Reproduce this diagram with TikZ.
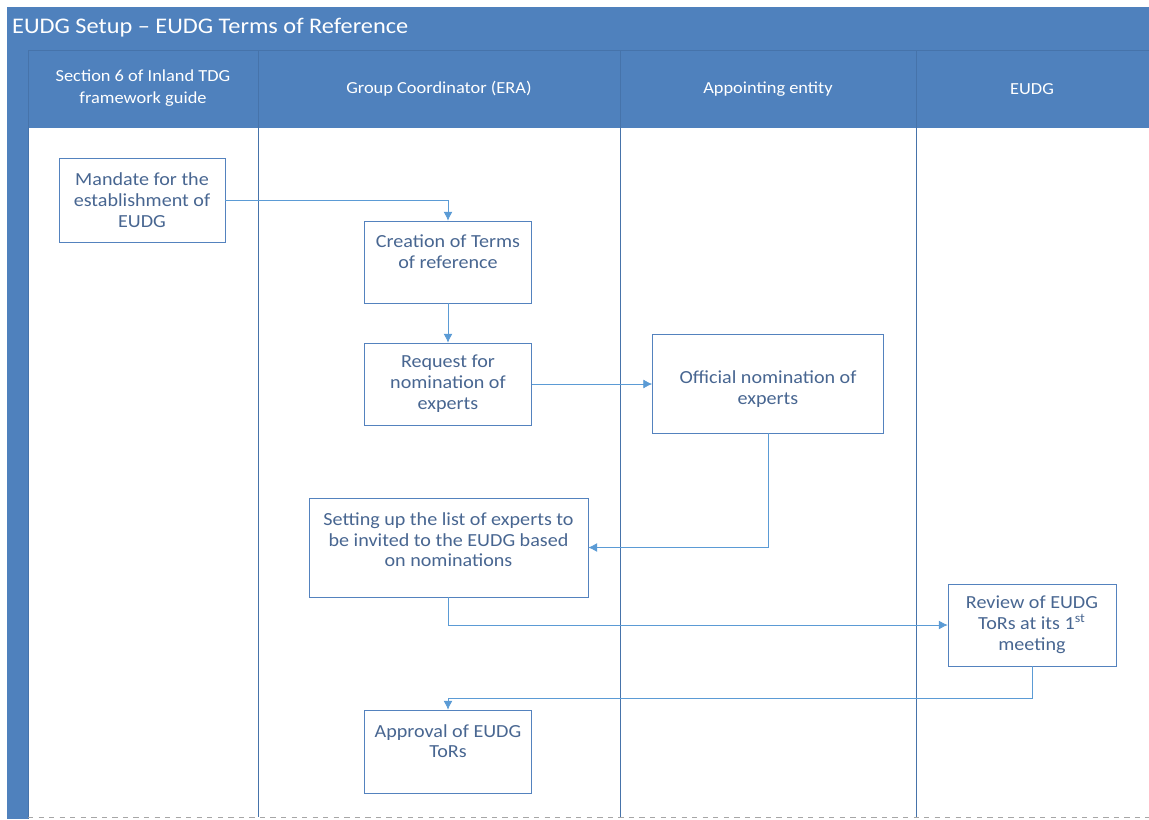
\documentclass[tikz,border=0pt]{standalone}
\usepackage{fontspec}
\setmainfont{Carlito}[FakeStretch=1.09]
\usetikzlibrary{arrows.meta}

\definecolor{poolblue}{RGB}{79,129,189}
\definecolor{laneline}{RGB}{70,115,170}
\definecolor{boxline}{RGB}{84,130,190}
\definecolor{boxtext}{RGB}{72,102,145}
\definecolor{flowblue}{RGB}{91,155,213}

\tikzset{
    lanehead/.style={text=white, align=center, font=\fontsize{9.6}{12.4}\selectfont},
    task/.style={draw=boxline, fill=white, text=boxtext, align=center,
        font=\fontsize{10.5}{11.9}\selectfont, inner sep=2pt},
    flow/.style={draw=flowblue, -{Latex[length=5pt,width=5pt]}},
}

\begin{document}
\begin{tikzpicture}[x=0.02cm, y=-0.02cm]
    \useasboundingbox (0,0) rectangle (1149,819);

    % pool and lanes
    \fill[poolblue] (7,7) rectangle (1149,128);
    \fill[poolblue] (7,7) rectangle (28,819);
    \draw[laneline] (28,50) -- (1149,50);
    \draw[laneline] (28,50) -- (28,819);
    \foreach \x in {258,620,916}{
        \draw[laneline] (\x,50) -- (\x,817);
    }
    \draw[gray!70, dashed] (28,817) -- (1149,817);

    % title and lane headers
    \node[anchor=west, text=white, font=\fontsize{12.7}{15}\selectfont] (title) at (6,28) {EUDG Setup -- EUDG Terms of Reference};
    \node[lanehead] (hdrsec) at (143,88) {Section 6 of Inland TDG\\framework guide};
    \node[lanehead] (hdrera) at (439,89) {Group Coordinator (ERA)};
    \node[lanehead] (hdrapp) at (768,89) {Appointing entity};
    \node[lanehead] (hdreudg) at (1032,89) {EUDG};

    % tasks
    \node[task, minimum width=3.32cm, minimum height=1.68cm] (mandate) at (142,200) {Mandate for the\\establishment of\\EUDG};
    \node[task, minimum width=3.34cm, minimum height=1.64cm] (creation) at (448,262) {Creation of Terms\\of reference\\\mbox{}};
    \node[task, minimum width=3.34cm, minimum height=1.64cm] (request) at (448,384) {Request for\\nomination of\\experts};
    \node[task, minimum width=4.62cm, minimum height=1.98cm] (official) at (768,383.5) {\rule{0pt}{14pt}Official nomination of\\experts};
    \node[task, minimum width=5.58cm, minimum height=1.98cm] (setting) at (448.5,547.5) {Setting up the list of experts to\\be invited to the EUDG based\\on nominations\rule[-9pt]{0pt}{1pt}};
    \node[task, minimum width=3.36cm, minimum height=1.64cm] (review) at (1032,625) {Review of EUDG\\ToRs at its 1\textsuperscript{st}\\meeting};
    \node[task, minimum width=3.34cm, minimum height=1.66cm] (approval) at (448,751.5) {Approval of EUDG\\ToRs\\\mbox{}};

    % flows
    \draw[flow] (mandate.east) -| (creation.north);
    \draw[flow] (creation) -- (request);
    \draw[flow] (request.east) -- (request.east -| official.west);
    \draw[flow] (official.south) |- (setting.east);
    \draw[flow] (setting.south) |- (review.west);
    \draw[flow] (review.south) -- ++(0,32) -| (approval.north);
\end{tikzpicture}
\end{document}
